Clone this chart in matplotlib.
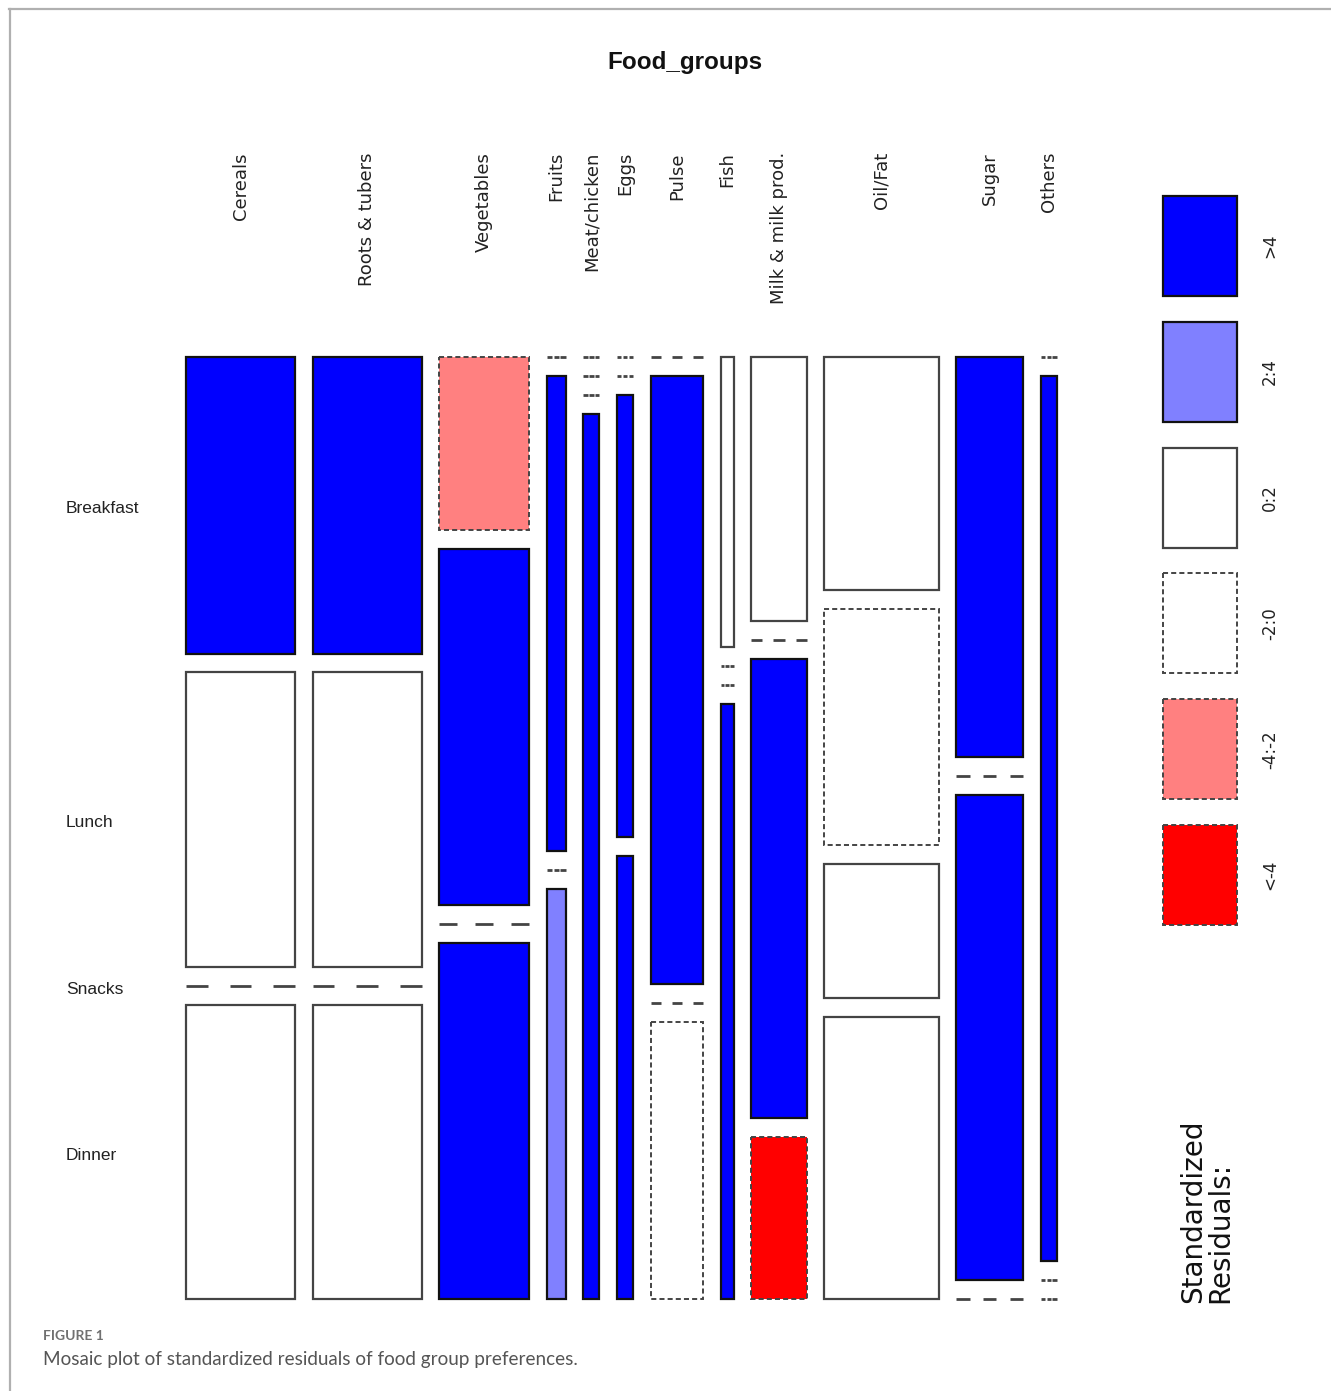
import numpy as np
import matplotlib.pyplot as plt
from matplotlib.patches import Rectangle

food_groups = ['Cereals', 'Roots & tubers', 'Vegetables', 'Fruits', 'Meat/chicken', 'Eggs',
               'Pulse', 'Fish', 'Milk & milk prod.', 'Oil/Fat', 'Sugar', 'Others']
meals = ['Breakfast', 'Lunch', 'Snacks', 'Dinner']

# share of all answers per food group (%) -> column widths
group_share = [16.1, 16.1, 13.3, 2.8, 2.4, 2.4, 7.8, 1.9, 8.2, 16.9, 9.9, 2.4]

# meal split inside each food group (%) -> cell heights
breakfast = [33.5, 33.5, 19.5, 0, 0, 0, 0, 32.8, 29.8, 26.3, 45.2, 0]
lunch = [33.3, 33.3, 40.25, 53.7, 0, 0, 68.7, 0, 0, 26.7, 0, 100]
snacks = [0, 0, 0, 0, 0, 50, 0, 0, 51.9, 15.1, 54.8, 0]
dinner = [33.2, 33.2, 40.25, 46.3, 100, 50, 31.3, 67.2, 18.3, 31.9, 0, 0]

# standardized residual class per cell (None = empty cell)
res_breakfast = ['>4', '>4', '-4:-2', None, None, None, None, '0:2', '0:2', '0:2', '>4', None]
res_lunch = ['0:2', '0:2', '>4', '>4', None, None, '>4', None, None, '-2:0', None, '>4']
res_snacks = [None, None, None, None, None, '>4', None, None, '>4', '0:2', '>4', None]
res_dinner = ['0:2', '0:2', '>4', '2:4', '>4', '>4', '-2:0', '>4', '<-4', '0:2', None, None]

legend_labels = ['>4', '2:4', '0:2', '-2:0', '-4:-2', '<-4']
legend_colors = ['#0000FF', '#8080FF', '#FFFFFF', '#FFFFFF', '#FF8080', '#FF0000']

W, H = 1331, 1391
fig = plt.figure(figsize=(W / 100, H / 100), dpi=100)
ax = fig.add_axes([0, 0, 1, 1])
ax.set_xlim(0, W)
ax.set_ylim(H, 0)
ax.axis('off')

narrow = ['Liberation Sans Narrow', 'Liberation Sans', 'DejaVu Sans']
fill = dict(zip(legend_labels, legend_colors))
dashed = (0, (2.6, 1.6))


def cell_style(cls):
    if cls.startswith('-') or cls.startswith('<'):
        return dict(edgecolor='#444444', linestyle=dashed, linewidth=1.4)
    edge = '#111111' if cls in ('>4', '2:4') else '#444444'
    return dict(edgecolor=edge, linestyle='-', linewidth=1.6)


def zero_line(x, y, w):
    # empty cell: three short dashes across the column
    d = w * (0.2 if w > 40 else 0.28)
    g = (w - 3 * d) / 2
    for k in range(3):
        xs = x + k * (d + g)
        ax.plot([xs, xs + d], [y, y], color='#444444', lw=2, solid_capstyle='butt')


# mosaic area
x0, y0, pw, ph = 186, 357, 871, 942
gx, gy = 0.02 * pw, 0.02 * ph
shares = np.array(group_share) / sum(group_share)
widths = shares * (pw - gx * (len(food_groups) - 1))
cell_h = ph - gy * (len(meals) - 1)
pcts = np.array([breakfast, lunch, snacks, dinner])
res = [res_breakfast, res_lunch, res_snacks, res_dinner]

x = x0
for j, name in enumerate(food_groups):
    w = widths[j]
    y = y0
    col = pcts[:, j] / pcts[:, j].sum()
    for i in range(len(meals)):
        h = col[i] * cell_h
        if j == 0:
            # meal labels follow the first column
            ax.text(66, y + h / 2 + 3, meals[i], family=narrow, fontsize=12.5,
                    ha='left', va='center', color='#222222')
        if h == 0:
            zero_line(x, y, w)
            y += gy
            continue
        cls = res[i][j]
        ax.add_patch(Rectangle((x, y), w, h, facecolor=fill[cls], **cell_style(cls)))
        y += h + gy
    ax.text(x + w / 2, 152, name, rotation=90, ha='center', va='top',
            fontsize=13, color='#222222')
    x += w + gx

ax.text(685, 62, 'Food_groups', family=narrow, fontsize=17.5, fontweight='bold',
        ha='center', va='center', color='#111111')

# legend
lx, lw_, lh = 1163, 74, 100
lstep = 125.8
for k, (lab, c) in enumerate(zip(legend_labels, legend_colors)):
    ly = 196 + k * lstep
    ax.add_patch(Rectangle((lx, ly), lw_, lh, facecolor=c, **cell_style(lab)))
    ax.text(1270, ly + lh / 2, lab, rotation=90, ha='center', va='center',
            fontsize=12, color='#222222')

ax.text(1207, 1303, 'Standardized\nResiduals:', rotation=90, ha='center', va='bottom',
        multialignment='left', fontsize=20, color='#111111', linespacing=0.95)

# frame and caption
ax.plot([9, 1330], [9, 9], color='#b0b0b0', lw=1.6)
ax.plot([10, 10], [9, H], color='#b0b0b0', lw=1.6)
ax.text(43, 1336, 'FIGURE 1', family=['Lato', 'DejaVu Sans'], fontsize=10,
        fontweight='bold', color='#707070', ha='left', va='center')
ax.text(43, 1359, 'Mosaic plot of standardized residuals of food group preferences.',
        family=['Lato', 'DejaVu Sans'], fontsize=13.6, color='#555555', ha='left', va='center')

fig.savefig('out.png', dpi=100)
